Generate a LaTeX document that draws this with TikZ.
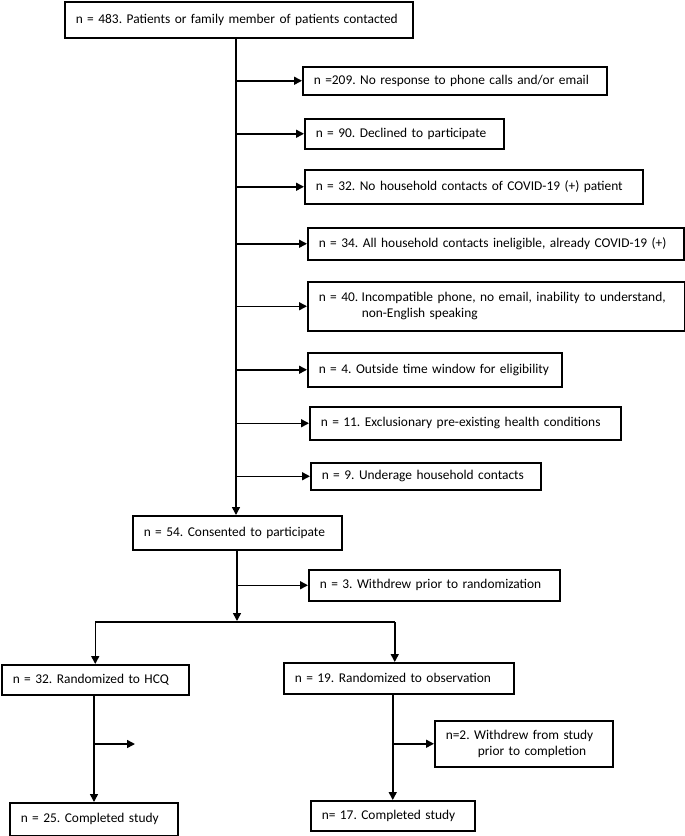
\documentclass[tikz,border=0pt]{standalone}
\usepackage{fontspec}
\setmainfont{Carlito}
\usetikzlibrary{arrows.meta,calc}
\tikzset{
  box/.style={draw=black, line width=1.5pt, rectangle, inner xsep=11pt, inner ysep=0pt,
    anchor=north west, align=left, font=\fontsize{13.4}{16}\selectfont},
  arr/.style={line width=1.5pt, -{Triangle[length=8pt,width=8pt]}},
  ln/.style={line width=1.5pt}
}
\newcommand{\bx}[6]{%
  \pgfmathsetmacro{\bw}{#4-#2}\pgfmathsetmacro{\bh}{#5-#3}\pgfmathsetmacro{\tw}{#4-#2-22}%
  \node[box, minimum width=\bw pt, minimum height=\bh pt, text width=\tw pt] (#1) at (#2pt,-#3pt) {#6};}
\begin{document}
\frenchspacing
\begin{tikzpicture}[x=1pt,y=1pt]
\useasboundingbox (0,0) rectangle (685,-836);
\bx{top}{64}{1}{412}{37}{n = 483. Patients or family member of patients contacted}
\bx{b1}{302}{66}{606}{94}{n =209. No response to phone calls and/or email}
\bx{b2}{304}{118}{503}{148}{n = 90. Declined to participate}
\bx{b3}{304}{169}{642}{203}{n = 32. No household contacts of COVID-19 (+) patient}
\bx{b4}{307}{227}{683}{259}{n = 34. All household contacts ineligible, already COVID-19 (+)}
\bx{b5}{307}{281}{684}{330}{\makebox[43pt][l]{n = 40.}Incompatible phone, no email, inability to understand,\\\hspace*{43pt}non-English speaking}
\bx{b6}{307}{352}{561}{386}{n = 4. Outside time window for eligibility}
\bx{b7}{309}{406}{620}{439}{n = 11. Exclusionary pre-existing health conditions}
\bx{b8}{310}{462}{540}{489}{n = 9. Underage household contacts}
\bx{cons}{132}{515}{341}{549}{n = 54. Consented to participate}
\bx{w3}{308}{569}{559}{600}{n = 3. Withdrew prior to randomization}
\bx{hcq}{1}{664}{188}{694}{n = 32. Randomized to HCQ}
\bx{obs}{283}{662}{513}{693}{n = 19. Randomized to observation}
\bx{w2}{434}{720}{612}{766}{n=2. Withdrew from study\\\hspace*{32pt}prior to completion}
\bx{c25}{9}{802}{177}{835}{n = 25. Completed study}
\bx{c17}{310}{800}{474}{830}{n= 17. Completed study}
% trunk
\coordinate (t) at (236,0);
\draw[arr] (top.south -| t) -- (cons.north -| t);
\foreach \b in {b1,b2,b3,b4,b5,b6,b7,b8}{\draw[arr] (\b.west -| t) -- (\b.west);}
% consented split
\coordinate (split) at (237,-622);
\draw[arr] (cons.south -| split) -- ([yshift=1pt]split);
\draw[arr] (w3.west -| split) -- (w3.west);
\draw[ln] (hcq.north |- split) -- ([xshift=-4pt]obs.north |- split);
\draw[arr] (hcq.north |- split) -- (hcq.north);
\draw[arr] ([xshift=-4pt]obs.north |- split) -- ([xshift=-4pt]obs.north);
% HCQ arm
\coordinate (hx) at (94,-744);
\coordinate (hend) at (135,-744);
\draw[arr] (hx |- hcq.south) -- (hx |- c25.north);
\draw[arr] (hx) -- (hend);
% observation arm
\draw[arr] (c17.north |- obs.south) -- (c17.north);
\draw[arr] (c17.north |- w2.west) -- (w2.west);
\end{tikzpicture}
\end{document}
